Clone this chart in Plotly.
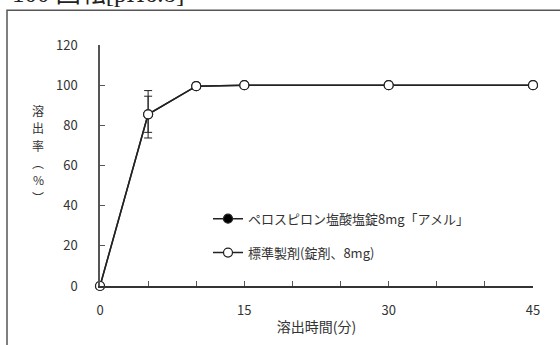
import plotly.graph_objects as go

# Dissolution test, 100 rpm, pH 6.8
time_min = [0, 5, 10, 15, 30, 45]
test_pct = [0, 85.5, 99.5, 100, 100, 100]
test_sd = [0, 9.0, 1.2, 0.5, 0.5, 0.5]
ref_pct = [0, 85.5, 99.5, 100, 100, 100]
ref_sd = [0, 11.8, 1.5, 0.5, 0.5, 0.5]

test_name = "ペロスピロン塩酸塩錠8mg「アメル」"
ref_name = "標準製剤(錠剤、8mg)"

x_ticks = [0, 15, 30, 45]
y_ticks = [0, 20, 40, 60, 80, 100, 120]

# vertical y-axis title, one glyph per row
y_title_chars = ["溶", "出", "率", "︵", "%", "︶"]

FONT = "Noto Sans CJK JP"
INK = "#222222"
TXT = "#333333"

fig = go.Figure()
fig.add_trace(go.Scatter(
    x=time_min, y=test_pct, name=test_name, mode="lines+markers", legendgroup="a",
    line=dict(color=INK, width=1.5),
    marker=dict(symbol="circle", size=9, color="black", line=dict(color=INK, width=1.2)),
    error_y=dict(type="data", array=test_sd, visible=True, color=INK, thickness=1, width=4),
    cliponaxis=False,
))
fig.add_trace(go.Scatter(
    x=time_min, y=ref_pct, name=ref_name, mode="lines+markers", legendgroup="b",
    line=dict(color=INK, width=1.5),
    marker=dict(symbol="circle", size=9, color="white", line=dict(color=INK, width=1.2)),
    error_y=dict(type="data", array=ref_sd, visible=True, color=INK, thickness=1, width=4),
    cliponaxis=False,
))

L, R, T, B = 100, 27, 45, 57
W, H = 560, 345
pw, ph = W - L - R, H - T - B

def px_x(p):
    return (p - L) / pw

def px_y(p):
    return (H - B - p) / ph

annotations = [
    dict(
        text=ch, xref="paper", yref="paper",
        x=px_x(38), y=px_y(111 + 17.5 * i), xanchor="center", yanchor="middle",
        showarrow=False, font=dict(size=12, family=FONT, color=TXT),
    )
    for i, ch in enumerate(y_title_chars)
]
annotations.append(dict(
    text="100 回転[pH6.8]", xref="paper", yref="paper",
    x=px_x(10), y=px_y(9), xanchor="left", yanchor="bottom",
    showarrow=False, font=dict(size=25, family="Liberation Serif, Noto Sans CJK JP", color="#222222"),
))

fig.update_layout(
    width=W, height=H,
    margin=dict(l=L, r=R, t=T, b=B),
    paper_bgcolor="white", plot_bgcolor="white",
    font=dict(family=FONT, size=13, color=TXT),
    showlegend=True,
    legend=dict(
        x=px_x(208), y=px_y(205), xanchor="left", yanchor="top",
        bgcolor="rgba(0,0,0,0)", font=dict(size=13, family=FONT, color=TXT),
        itemwidth=30, tracegroupgap=14,
    ),
    xaxis=dict(
        range=[0, 45], tickvals=x_ticks, ticks="inside", ticklen=5,
        tickcolor="#555555", showline=True, linecolor="#333333", linewidth=1.5,
        showgrid=False, zeroline=False, tickfont=dict(size=13), ticklabelstandoff=12,
        minor=dict(dtick=5, ticks="inside", ticklen=5, tickcolor="#555555", showgrid=False),
        title=dict(text="溶出時間(分)", font=dict(size=14), standoff=4),
    ),
    yaxis=dict(
        range=[0, 120], tickvals=y_ticks, ticks="inside", ticklen=5,
        tickcolor="#555555", showline=True, linecolor="#555555", linewidth=1.5,
        showgrid=False, zeroline=False, tickfont=dict(size=13), ticklabelstandoff=18,
    ),
    shapes=[dict(
        type="rect", xref="paper", yref="paper",
        x0=px_x(7), x1=px_x(570), y0=px_y(360), y1=px_y(10),
        line=dict(color="#555555", width=1.5), fillcolor="rgba(0,0,0,0)", layer="below",
    )],
    annotations=annotations,
)

fig.write_html("out.html")
